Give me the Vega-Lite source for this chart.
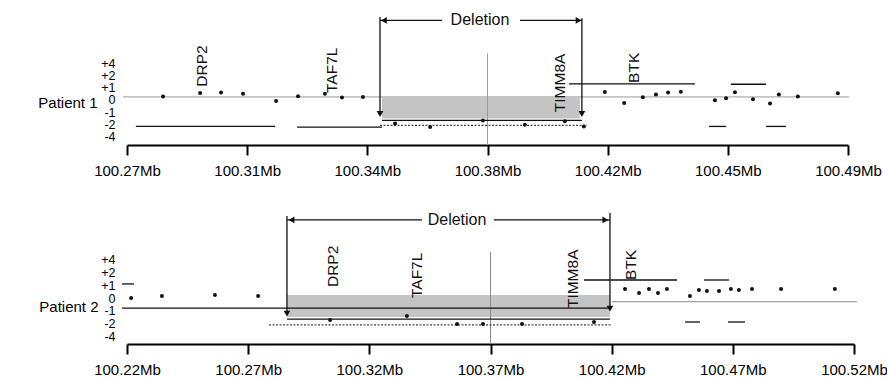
{
  "$schema": "https://vega.github.io/schema/vega-lite/v6.json",
  "background": "white",
  "padding": {"left": 37, "top": 8, "right": 0, "bottom": 0},
  "spacing": 61,
  "bounds": "flush",
  "config": {"view": {"stroke": null}, "font": "Liberation Sans"},
  "datasets": {
    "p1": [
      {"kind": "band", "x": 100.3478, "x2": 100.4082, "y": 0.2, "y2": -1.5},
      {"kind": "gray", "x": 100.2688, "x2": 100.4903, "y": 0.25, "y2": 0.25},
      {"kind": "gray", "x": 100.38, "x2": 100.38, "y": 3.78, "y2": -3.659},
      {"kind": "dotted", "x": 100.3472, "x2": 100.4104, "y": -2.07, "y2": -2.07},
      {"kind": "black", "x": 100.2727, "x2": 100.3152, "y": -2.15, "y2": -2.15},
      {"kind": "black", "x": 100.3219, "x2": 100.3478, "y": -2.2, "y2": -2.2},
      {"kind": "black", "x": 100.3478, "x2": 100.4088, "y": -1.65, "y2": -1.65},
      {"kind": "black", "x": 100.4049, "x2": 100.4433, "y": 1.31, "y2": 1.31},
      {"kind": "black", "x": 100.4543, "x2": 100.465, "y": 1.28, "y2": 1.28},
      {"kind": "black", "x": 100.4476, "x2": 100.4528, "y": -2.15, "y2": -2.15},
      {"kind": "black", "x": 100.465, "x2": 100.4711, "y": -2.15, "y2": -2.15},
      {"kind": "black", "x": 100.3472, "x2": 100.3472, "y": 6.75, "y2": -1.15},
      {"kind": "black", "x": 100.4088, "x2": 100.4088, "y": 6.65, "y2": -1.15},
      {"kind": "black", "x": 100.3472, "x2": 100.3661, "y": 6.47, "y2": 6.47},
      {"kind": "black", "x": 100.3899, "x2": 100.4088, "y": 6.47, "y2": 6.47},
      {"kind": "head", "x": 100.3472, "y": -1.14, "dir": "down"},
      {"kind": "head", "x": 100.4088, "y": -1.14, "dir": "down"},
      {"kind": "head", "x": 100.3484, "y": 6.47, "dir": "left"},
      {"kind": "head", "x": 100.4078, "y": 6.47, "dir": "right"},
      {"kind": "dot", "x": 100.281, "y": 0.28},
      {"kind": "dot", "x": 100.2923, "y": 0.57},
      {"kind": "dot", "x": 100.2987, "y": 0.6},
      {"kind": "dot", "x": 100.3054, "y": 0.5},
      {"kind": "dot", "x": 100.3155, "y": -0.09},
      {"kind": "dot", "x": 100.3222, "y": 0.3},
      {"kind": "dot", "x": 100.3304, "y": 0.5},
      {"kind": "dot", "x": 100.3356, "y": 0.21},
      {"kind": "dot", "x": 100.342, "y": 0.24},
      {"kind": "dot", "x": 100.4158, "y": 0.66},
      {"kind": "dot", "x": 100.4217, "y": -0.25},
      {"kind": "dot", "x": 100.4274, "y": 0.22},
      {"kind": "dot", "x": 100.4314, "y": 0.45},
      {"kind": "dot", "x": 100.4351, "y": 0.61},
      {"kind": "dot", "x": 100.439, "y": 0.68},
      {"kind": "dot", "x": 100.4494, "y": -0.03},
      {"kind": "dot", "x": 100.4528, "y": 0.15},
      {"kind": "dot", "x": 100.4555, "y": 0.63},
      {"kind": "dot", "x": 100.461, "y": 0.07},
      {"kind": "dot", "x": 100.4662, "y": -0.29},
      {"kind": "dot", "x": 100.4689, "y": 0.44},
      {"kind": "dot", "x": 100.4747, "y": 0.28},
      {"kind": "dot", "x": 100.4869, "y": 0.55},
      {"kind": "dot", "x": 100.3518, "y": -1.92},
      {"kind": "dot", "x": 100.3625, "y": -2.19},
      {"kind": "dot", "x": 100.3786, "y": -1.66},
      {"kind": "dot", "x": 100.3914, "y": -2.02},
      {"kind": "dot", "x": 100.4036, "y": -1.73},
      {"kind": "dot", "x": 100.4094, "y": -2.15},
      {"kind": "gene", "x": 100.2929, "y": 1.08, "label": "DRP2"},
      {"kind": "gene", "x": 100.3326, "y": 0.57, "label": "TAF7L"},
      {"kind": "gene", "x": 100.4021, "y": -0.99, "label": "TIMM8A"},
      {"kind": "gene", "x": 100.4247, "y": 1.39, "label": "BTK"},
      {"kind": "del", "x": 100.3777, "y": 6.47, "label": "Deletion"}
    ],
    "p2": [
      {"kind": "band", "x": 100.286, "x2": 100.4193, "y": 0.23, "y2": -1.47},
      {"kind": "gray", "x": 100.4201, "x2": 100.5212, "y": -0.29, "y2": -0.29},
      {"kind": "gray", "x": 100.37, "x2": 100.37, "y": 3.57, "y2": -3.566},
      {"kind": "dotted", "x": 100.2786, "x2": 100.4201, "y": -2.09, "y2": -2.09},
      {"kind": "black", "x": 100.2179, "x2": 100.4193, "y": -0.78, "y2": -0.78},
      {"kind": "black", "x": 100.286, "x2": 100.4193, "y": -1.63, "y2": -1.63},
      {"kind": "black", "x": 100.2179, "x2": 100.2229, "y": 1.09, "y2": 1.09},
      {"kind": "black", "x": 100.4086, "x2": 100.447, "y": 1.395, "y2": 1.395},
      {"kind": "black", "x": 100.4581, "x2": 100.4684, "y": 1.395, "y2": 1.395},
      {"kind": "black", "x": 100.4503, "x2": 100.4564, "y": -1.86, "y2": -1.86},
      {"kind": "black", "x": 100.468, "x2": 100.475, "y": -1.86, "y2": -1.86},
      {"kind": "black", "x": 100.286, "x2": 100.286, "y": 6.36, "y2": -1.2},
      {"kind": "black", "x": 100.4193, "x2": 100.4193, "y": 6.59, "y2": -0.82},
      {"kind": "black", "x": 100.286, "x2": 100.3417, "y": 6.05, "y2": 6.05},
      {"kind": "black", "x": 100.3714, "x2": 100.4193, "y": 6.05, "y2": 6.05},
      {"kind": "head", "x": 100.286, "y": -1.21, "dir": "down"},
      {"kind": "head", "x": 100.4193, "y": -0.82, "dir": "down"},
      {"kind": "head", "x": 100.2879, "y": 6.05, "dir": "left"},
      {"kind": "head", "x": 100.4174, "y": 6.05, "dir": "right"},
      {"kind": "dot", "x": 100.2217, "y": 0.0},
      {"kind": "dot", "x": 100.2344, "y": 0.155},
      {"kind": "dot", "x": 100.2563, "y": 0.23},
      {"kind": "dot", "x": 100.2741, "y": 0.155},
      {"kind": "dot", "x": 100.4255, "y": 0.7},
      {"kind": "dot", "x": 100.4313, "y": 0.39},
      {"kind": "dot", "x": 100.4354, "y": 0.7},
      {"kind": "dot", "x": 100.4391, "y": 0.39},
      {"kind": "dot", "x": 100.4428, "y": 0.7},
      {"kind": "dot", "x": 100.4523, "y": 0.155},
      {"kind": "dot", "x": 100.456, "y": 0.62},
      {"kind": "dot", "x": 100.4593, "y": 0.54},
      {"kind": "dot", "x": 100.4643, "y": 0.54},
      {"kind": "dot", "x": 100.4692, "y": 0.7},
      {"kind": "dot", "x": 100.4725, "y": 0.62},
      {"kind": "dot", "x": 100.4779, "y": 0.7},
      {"kind": "dot", "x": 100.4899, "y": 0.7},
      {"kind": "dot", "x": 100.5121, "y": 0.7},
      {"kind": "dot", "x": 100.3038, "y": -1.71},
      {"kind": "dot", "x": 100.3355, "y": -1.4},
      {"kind": "dot", "x": 100.3562, "y": -2.02},
      {"kind": "dot", "x": 100.3669, "y": -2.02},
      {"kind": "dot", "x": 100.383, "y": -2.02},
      {"kind": "dot", "x": 100.4127, "y": -1.86},
      {"kind": "gene", "x": 100.305, "y": 0.85, "label": "DRP2"},
      {"kind": "gene", "x": 100.3397, "y": 0.0, "label": "TAF7L"},
      {"kind": "gene", "x": 100.404, "y": -0.78, "label": "TIMM8A"},
      {"kind": "gene", "x": 100.428, "y": 1.4, "label": "BTK"},
      {"kind": "del", "x": 100.3562, "y": 6.05, "label": "Deletion"}
    ]
  },
  "vconcat": [
    {
      "width": 721,
      "height": 137,
      "data": {"name": "p1"},
      "encoding": {
        "x": {
          "field": "x", "type": "quantitative",
          "scale": {"domain": [100.27, 100.49], "nice": false, "zero": false},
          "axis": {
            "values": [100.27, 100.30667, 100.34333, 100.38, 100.41667, 100.45333, 100.49],
            "labelExpr": "format(datum.value, '.2f') + 'Mb'",
            "title": null, "grid": false, "tickSize": 10, "tickWidth": 2, "tickColor": "#000",
            "domainColor": "#000", "domainWidth": 2, "labelFontSize": 15, "labelPadding": 8,
            "labelColor": "#000", "labelFlush": false, "labelOverlap": false, "labelBound": false
          }
        },
        "y": {
          "field": "y", "type": "quantitative",
          "scale": {"domain": [-3.659, 7.48], "nice": false, "zero": false},
          "axis": {
            "values": [3, 2, 1, 0, -1, -2, -3],
            "labelExpr": "datum.value==3?'+4':datum.value==2?'+2':datum.value==1?'+1':datum.value==0?'0':datum.value==-1?'-1':datum.value==-2?'-2':'-4'",
            "ticks": false, "tickSize": 0, "domain": false, "grid": false, "labelPadding": 12,
            "labelFontSize": 12.5, "labelColor": "#000", "labelOverlap": false, "labelBound": false,
            "title": "Patient 1", "titleAngle": 0, "titleAlign": "right", "titleBaseline": "middle",
            "titleX": -30, "titleY": 94, "titleFontSize": 15, "titleFontWeight": "normal", "titleColor": "#000"
          }
        }
      },
      "layer": [
        {"transform": [{"filter": "datum.kind=='band'"}], "mark": {"type": "rect", "color": "#c4c4c4"},
         "encoding": {"x2": {"field": "x2"}, "y2": {"field": "y2"}}},
        {"transform": [{"filter": "datum.kind=='gray'"}], "mark": {"type": "rule", "color": "#9a9a9a", "strokeWidth": 1},
         "encoding": {"x2": {"field": "x2"}, "y2": {"field": "y2"}}},
        {"transform": [{"filter": "datum.kind=='dotted'"}], "mark": {"type": "rule", "color": "#444", "strokeWidth": 1.2, "strokeDash": [2, 1.5]},
         "encoding": {"x2": {"field": "x2"}, "y2": {"field": "y2"}}},
        {"transform": [{"filter": "datum.kind=='black'"}], "mark": {"type": "rule", "color": "#111", "strokeWidth": 1.3},
         "encoding": {"x2": {"field": "x2"}, "y2": {"field": "y2"}}},
        {"transform": [{"filter": "datum.kind=='head'"}], "mark": {"type": "point", "filled": true, "color": "#111", "size": 45, "opacity": 1},
         "encoding": {"shape": {"field": "dir", "type": "nominal", "scale": {"domain": ["down", "left", "right"], "range": ["triangle-down", "triangle-left", "triangle-right"]}, "legend": null}}},
        {"transform": [{"filter": "datum.kind=='dot'"}], "mark": {"type": "circle", "color": "#111", "size": 16, "opacity": 1}},
        {"transform": [{"filter": "datum.kind=='gene'"}], "mark": {"type": "text", "angle": 270, "align": "left", "baseline": "middle", "fontSize": 15.5, "color": "#111"},
         "encoding": {"text": {"field": "label"}}},
        {"transform": [{"filter": "datum.kind=='del'"}], "mark": {"type": "text", "align": "center", "baseline": "middle", "fontSize": 16, "color": "#111"},
         "encoding": {"text": {"field": "label"}}}
      ]
    },
    {
      "width": 727,
      "height": 138,
      "data": {"name": "p2"},
      "encoding": {
        "x": {
          "field": "x", "type": "quantitative",
          "scale": {"domain": [100.22, 100.52], "nice": false, "zero": false},
          "axis": {
            "values": [100.22, 100.27, 100.32, 100.37, 100.42, 100.47, 100.52],
            "labelExpr": "format(datum.value, '.2f') + 'Mb'",
            "title": null, "grid": false, "tickSize": 10, "tickWidth": 2, "tickColor": "#000",
            "domainColor": "#000", "domainWidth": 2, "labelFontSize": 15, "labelPadding": 8,
            "labelColor": "#000", "labelFlush": false, "labelOverlap": false, "labelBound": false
          }
        },
        "y": {
          "field": "y", "type": "quantitative",
          "scale": {"domain": [-3.566, 7.132], "nice": false, "zero": false},
          "axis": {
            "values": [3, 2, 1, 0, -1, -2, -3],
            "labelExpr": "datum.value==3?'+4':datum.value==2?'+2':datum.value==1?'+1':datum.value==0?'0':datum.value==-1?'-1':datum.value==-2?'-2':'-4'",
            "ticks": false, "tickSize": 0, "domain": false, "grid": false, "labelPadding": 12,
            "labelFontSize": 12.5, "labelColor": "#000", "labelOverlap": false, "labelBound": false,
            "title": "Patient 2", "titleAngle": 0, "titleAlign": "right", "titleBaseline": "middle",
            "titleX": -29, "titleY": 100, "titleFontSize": 15, "titleFontWeight": "normal", "titleColor": "#000"
          }
        }
      },
      "layer": [
        {"transform": [{"filter": "datum.kind=='band'"}], "mark": {"type": "rect", "color": "#c4c4c4"},
         "encoding": {"x2": {"field": "x2"}, "y2": {"field": "y2"}}},
        {"transform": [{"filter": "datum.kind=='gray'"}], "mark": {"type": "rule", "color": "#8a8a8a", "strokeWidth": 1},
         "encoding": {"x2": {"field": "x2"}, "y2": {"field": "y2"}}},
        {"transform": [{"filter": "datum.kind=='dotted'"}], "mark": {"type": "rule", "color": "#444", "strokeWidth": 1.2, "strokeDash": [2, 1.5]},
         "encoding": {"x2": {"field": "x2"}, "y2": {"field": "y2"}}},
        {"transform": [{"filter": "datum.kind=='black'"}], "mark": {"type": "rule", "color": "#111", "strokeWidth": 1.3},
         "encoding": {"x2": {"field": "x2"}, "y2": {"field": "y2"}}},
        {"transform": [{"filter": "datum.kind=='head'"}], "mark": {"type": "point", "filled": true, "color": "#111", "size": 45, "opacity": 1},
         "encoding": {"shape": {"field": "dir", "type": "nominal", "scale": {"domain": ["down", "left", "right"], "range": ["triangle-down", "triangle-left", "triangle-right"]}, "legend": null}}},
        {"transform": [{"filter": "datum.kind=='dot'"}], "mark": {"type": "circle", "color": "#111", "size": 16, "opacity": 1}},
        {"transform": [{"filter": "datum.kind=='gene'"}], "mark": {"type": "text", "angle": 270, "align": "left", "baseline": "middle", "fontSize": 15.5, "color": "#111"},
         "encoding": {"text": {"field": "label"}}},
        {"transform": [{"filter": "datum.kind=='del'"}], "mark": {"type": "text", "align": "center", "baseline": "middle", "fontSize": 16, "color": "#111"},
         "encoding": {"text": {"field": "label"}}}
      ]
    }
  ]
}
